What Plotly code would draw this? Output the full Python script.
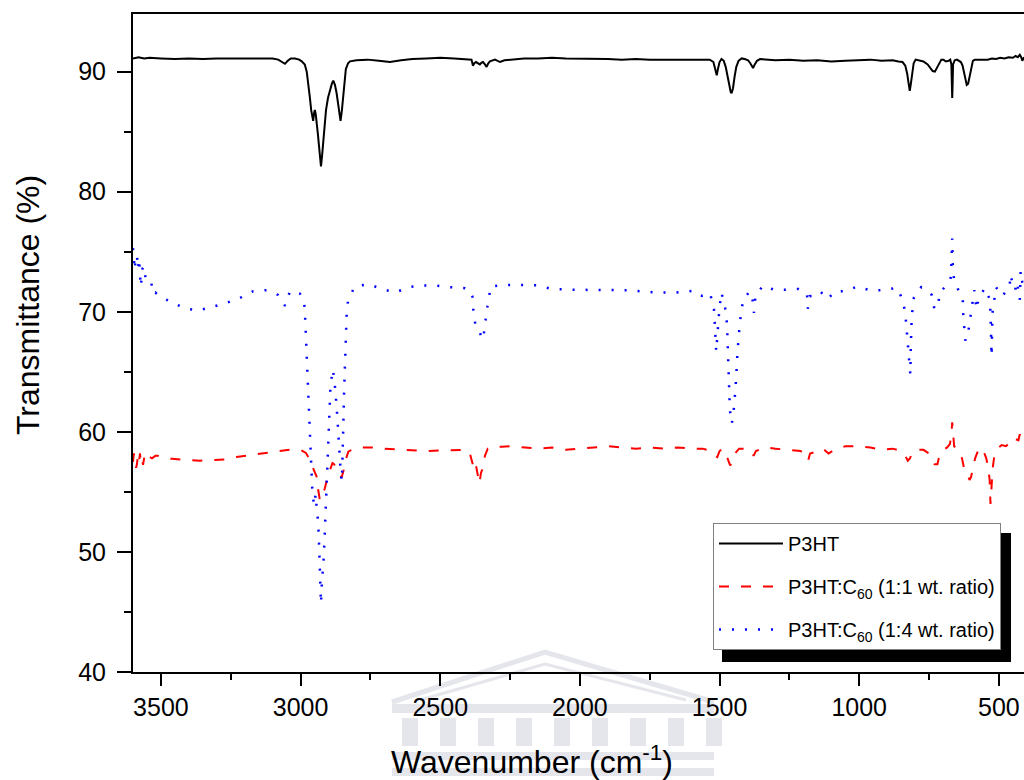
import plotly.graph_objects as go

# ---------------- data ----------------
p3ht_wn = [3600, 3580, 3560, 3540, 3500, 3450, 3400, 3350, 3300, 3250, 3200, 3150, 3100, 3080, 3066, 3056, 3046, 3035,
           3020, 3005, 2996, 2985, 2978, 2972, 2967, 2962, 2958, 2955, 2952, 2949, 2946, 2943, 2938, 2934, 2930, 2927,
           2923, 2919, 2914, 2909, 2902, 2895, 2888, 2883, 2877, 2871, 2865, 2860, 2857, 2852, 2847, 2842, 2838, 2830,
           2823, 2800, 2760, 2720, 2680, 2640, 2600, 2550, 2500, 2450, 2400, 2388, 2383, 2378, 2372, 2365, 2358, 2352,
           2347, 2340, 2334, 2328, 2322, 2304, 2295, 2286, 2270, 2250, 2200, 2150, 2100, 2050, 2000, 1950, 1900, 1850,
           1800, 1750, 1700, 1650, 1600, 1560, 1535, 1522, 1515, 1510, 1506, 1500, 1493, 1485, 1478, 1472, 1466, 1460,
           1457, 1452, 1446, 1440, 1432, 1421, 1410, 1398, 1390, 1384, 1380, 1374, 1366, 1355, 1330, 1300, 1250, 1200,
           1150, 1100, 1050, 1000, 960, 920, 880, 860, 845, 835, 828, 823, 819, 815, 810, 805, 798, 785, 770, 755, 745,
           737, 729, 722, 714, 706, 698, 690, 680, 674, 670, 668, 667, 666, 664, 658, 650, 642, 636, 630, 625, 620, 615,
           610, 605, 599, 593, 586, 570, 555, 540, 525, 510, 495, 480, 465, 450, 440, 432, 425, 420, 416, 413, 410]
p3ht_t = [91.1, 91.2, 91.1, 91.15, 91.1, 91.05, 91.1, 91.05, 91.1, 91.1, 91.15, 91.1, 91.1, 91.0, 90.8, 90.65, 90.9, 91.1,
          91.1, 91.0, 90.86, 90.6, 90.0, 89.0, 87.9, 86.8, 86.0, 85.9, 86.5, 86.8, 86.5, 86.0, 84.8, 83.8, 82.8, 82.1,
          83.0, 84.3, 85.6, 86.8, 87.8, 88.5, 89.0, 89.25, 88.9, 88.2, 87.0, 86.2, 85.9, 86.8, 88.2, 89.4, 90.2, 90.7,
          90.86, 90.95, 91.0, 90.9, 90.8, 90.95, 91.05, 91.1, 91.15, 91.1, 91.05, 91.0, 90.5, 90.7, 90.8, 90.7, 90.6, 90.75,
          90.8, 90.6, 90.4, 90.7, 90.86, 91.0, 90.9, 90.8, 90.95, 91.0, 91.1, 91.1, 91.15, 91.1, 91.1, 91.05, 91.05, 91.0,
          91.05, 91.0, 91.0, 91.0, 91.0, 91.05, 91.0, 90.8, 90.1, 89.7, 90.2, 90.8, 91.05, 90.9, 90.4, 89.6, 88.8, 88.3,
          88.2, 88.6, 89.6, 90.4, 90.9, 91.1, 91.05, 90.95, 90.7, 90.4, 90.3, 90.6, 90.9, 91.05, 91.0, 90.95, 91.0, 90.9,
          90.95, 90.85, 90.9, 90.95, 91.0, 90.9, 90.95, 90.85, 90.8, 90.5, 89.8, 89.0, 88.4, 89.0, 90.0, 90.7, 91.0, 90.95, 90.85, 90.6, 90.3,
          90.05, 90.0, 90.3, 90.75, 91.0, 91.0, 90.85, 90.9, 91.0, 90.6, 88.6, 87.8, 88.6, 90.6, 90.95, 91.0, 90.85, 90.8, 90.5, 89.9, 89.3, 88.9,
          89.0, 89.6, 90.4, 90.9, 91.0, 91.0, 91.05, 91.0, 91.1, 91.05, 91.15, 91.1, 91.2, 91.15, 91.3, 91.2, 91.4, 91.2, 90.9, 91.1, 91.2]

c11_wn = [3600, 3597, 3593, 3589, 3586, 3582, 3578, 3575, 3571, 3567, 3564, 3558, 3550, 3540, 3532, 3520, 3511, 3486,
          3460, 3432, 3400, 3360, 3320, 3271, 3230, 3199, 3150, 3110, 3060, 3027, 3000, 2981, 2970, 2963, 2955, 2949,
          2943, 2937, 2931, 2925, 2918, 2913, 2904, 2895, 2886, 2880, 2872, 2862, 2853, 2846, 2841, 2829, 2810, 2780,
          2740, 2700, 2650, 2600, 2550, 2500, 2450, 2410, 2395, 2385, 2378, 2372, 2366, 2360, 2354, 2347, 2340, 2330,
          2310, 2280, 2250, 2200, 2150, 2100, 2050, 2000, 1950, 1900, 1850, 1800, 1750, 1700, 1650, 1600, 1560, 1530,
          1515, 1508, 1500, 1490, 1478, 1470, 1462, 1455, 1445, 1430, 1400, 1385, 1378, 1370, 1340, 1300, 1250, 1210,
          1190, 1183, 1176, 1160, 1130, 1110, 1090, 1050, 1000, 960, 920, 880, 850, 835, 826, 818, 810, 800, 770, 750,
          740, 730, 720, 712, 700, 685, 675, 670, 667, 664, 660, 650, 640, 632, 625, 618, 612, 605, 600, 593, 585, 575,
          565, 555, 545, 538, 533, 530, 527, 522, 515, 505, 490, 475, 460, 450, 440, 430, 425, 420, 415, 410]
c11_t = [57.5, 58.2, 57.9, 57.0, 57.3, 58.1, 57.6, 58.2, 57.3, 57.6, 57.25, 58.1, 58.3, 57.9, 57.8, 58.0, 58.0, 57.8,
         57.75, 57.7, 57.65, 57.6, 57.65, 57.7, 57.9, 58.0, 58.15, 58.25, 58.4, 58.55, 58.5, 58.25, 57.8, 57.4, 57.0, 56.7,
         56.3, 55.2, 54.3, 54.6, 55.0, 55.3, 56.2, 56.8, 57.4, 57.3, 57.0, 56.5, 56.2, 56.8, 57.5, 58.35, 58.6, 58.7,
         58.7, 58.6, 58.55, 58.5, 58.4, 58.45, 58.5, 58.5, 58.3, 57.5, 56.8, 57.2, 56.5, 55.7, 56.6, 57.0, 58.0, 58.6,
         58.8, 58.75, 58.8, 58.7, 58.6, 58.7, 58.5, 58.6, 58.7, 58.8, 58.7, 58.6, 58.7, 58.6, 58.7, 58.6, 58.6, 58.4,
         58.0, 57.9, 58.4, 58.6, 58.2, 57.6, 57.2, 57.5, 58.2, 58.6, 58.6, 58.3, 58.0, 58.4, 58.7, 58.6, 58.5, 58.4,
         58.0, 57.6, 58.2, 58.3, 58.6, 58.2, 58.5, 58.8, 58.8, 58.7, 58.5, 58.6, 58.4, 58.0, 57.6, 57.8, 58.3, 58.5, 58.5, 58.2,
         57.8, 57.3, 57.3, 58.1, 58.5, 58.7, 59.0, 59.8, 60.8, 59.5, 58.8, 58.6, 58.1, 57.8, 57.0, 56.5, 56.4, 56.0, 56.2, 57.0, 57.8, 58.4,
         58.7, 58.4, 57.8, 57.0, 56.0, 54.0, 55.5, 57.0, 58.2, 58.6, 58.9, 58.8, 59.1, 59.0, 59.4, 59.3, 59.8, 59.4, 59.6, 59.2]

c14_wn = [3600, 3597, 3594, 3590, 3586, 3582, 3578, 3575, 3572, 3566, 3561, 3555, 3550, 3543, 3536, 3529, 3520, 3505,
          3489, 3454, 3414, 3368, 3317, 3271, 3221, 3171, 3121, 3081, 3056, 3038, 3002, 2988, 2985, 2981, 2975, 2971,
          2967, 2965, 2963, 2961, 2958, 2952, 2946, 2943, 2938, 2935, 2933, 2932, 2930, 2929, 2927, 2924, 2920, 2917,
          2914, 2911, 2908, 2904, 2900, 2893, 2885, 2880, 2875, 2871, 2868, 2865, 2862, 2860, 2856, 2852, 2849, 2847,
          2845, 2843, 2841, 2840, 2839, 2837, 2835, 2830, 2806, 2757, 2709, 2662, 2612, 2562, 2513, 2463, 2411, 2395,
          2385, 2381, 2374, 2366, 2361, 2354, 2347, 2340, 2334, 2327, 2320, 2286, 2239, 2150, 2103, 2008, 1913, 1832,
          1723, 1656, 1588, 1563, 1534, 1520, 1517, 1514, 1512, 1504, 1500, 1493, 1477, 1473, 1470, 1468, 1463, 1456,
          1448, 1441, 1436, 1428, 1422, 1414, 1391, 1382, 1377, 1371, 1344, 1303, 1262, 1217, 1187, 1184, 1177, 1157,
          1138, 1113, 1086, 1052, 1007, 962, 910, 866, 845, 835, 831, 826, 821, 817, 815, 812, 804, 778, 740, 731, 717,
          713, 686, 673, 670, 668, 667, 665, 661, 645, 629, 628, 625, 620, 609, 602, 595, 588, 580, 573, 550, 533, 530,
          529, 527, 526, 523, 510, 489, 462, 458, 450, 442, 435, 425, 422, 415, 410]
c14_t = [75.3, 74.6, 73.5, 74.5, 74.7, 73.6, 74.4, 73.1, 72.1, 73.6, 73.8, 72.8, 72.7, 72.7, 72.7, 71.5, 71.6, 71.3,
         71.1, 70.7, 70.3, 70.1, 70.4, 70.7, 71.1, 71.7, 71.8, 71.4, 70.5, 71.7, 71.5, 70.9, 70.2, 67.9, 65.6, 63.2,
         61.0, 59.75, 57.5, 56.3, 55.1, 53.9, 54.8, 53.8, 52.7, 51.4, 50.3, 49.1, 47.9, 46.7, 45.7, 47.3, 48.5, 49.6,
         51.2, 53.0, 55.3, 58.0, 61.0, 63.8, 65.2, 64.5, 63.3, 62.25, 61.1, 59.9, 58.8, 57.5, 56.5, 55.9, 58.0, 60.5,
         62.8, 64.0, 65.2, 66.3, 67.5, 68.6, 69.8, 71.0, 72.1, 72.3, 71.9, 71.6, 72.05, 72.2, 72.17, 72.05, 71.97, 71.8,
         71.3, 70.0, 68.9, 68.6, 68.5, 68.0, 67.7, 68.8, 70.1, 70.9, 72.1, 72.2, 72.25, 72.2, 71.9, 71.83, 71.8, 71.8,
         71.6, 71.6, 71.75, 71.33, 71.56, 70.2, 69.0, 67.9, 66.7, 69.2, 70.4, 71.6, 70.0, 68.8, 66.5, 64.06, 61.8, 60.7,
         62.06, 64.3, 66.56, 68.9, 70.1, 71.1, 71.7, 71.0, 69.9, 71.4, 72.17, 71.83, 71.83, 71.9, 71.5, 70.25, 71.3, 71.33,
         71.67, 71.06, 71.7, 71.7, 72.1, 71.8, 71.8, 72.0, 71.06, 69.9, 68.7, 67.5, 66.0, 64.8, 67.2, 69.6, 71.2, 72.05, 71.4, 70.25, 70.4,
         71.56, 72.25, 72.7, 73.9, 75.0, 76.1, 74.0, 72.8, 71.8, 71.06, 69.9, 68.8, 67.6, 68.4, 69.5, 70.7, 71.8, 70.2, 71.1, 71.97, 71.06, 69.9,
         68.7, 67.4, 66.3, 69.9, 72.05, 71.3, 72.0, 73.1, 72.2, 71.8, 72.5, 71.0, 73.4, 72.25, 71.8]

x_ticks = [3500, 3000, 2500, 2000, 1500, 1000, 500]
y_ticks = [40, 50, 60, 70, 80, 90]
names = ["P3HT", "P3HT:C<sub>60</sub> (1:1 wt. ratio)", "P3HT:C<sub>60</sub> (1:4 wt. ratio)"]

# ---------------- layout geometry (pixels) ----------------
W, H = 1024, 780
ML, MR, MT, MB = 133, 0, 14, 108
PW, PH = W - ML - MR, H - MT - MB


def px(x):  # figure pixel -> paper x
    return (x - ML) / PW


def py(y):  # figure pixel -> paper y
    return (H - MB - y) / PH


fig = go.Figure()
fig.add_trace(go.Scatter(x=p3ht_wn, y=p3ht_t, mode="lines", name=names[0], legendgroup="g1",
                         line=dict(color="black", width=2)))
fig.add_trace(go.Scatter(x=c11_wn, y=c11_t, mode="lines", name=names[1], legendgroup="g2",
                         line=dict(color="#ff0000", width=2, dash="10px,12px")))
fig.add_trace(go.Scatter(x=c14_wn, y=c14_t, mode="lines", name=names[2], legendgroup="g3",
                         line=dict(color="#0000ff", width=2.5, dash="2px,11px")))

axis_common = dict(showgrid=False, zeroline=False, showline=True, linewidth=2, linecolor="black",
                   ticks="outside", tickwidth=2, tickcolor="black",
                   tickfont=dict(size=25, color="black", family="Liberation Sans, Arial, sans-serif"))

fig.update_xaxes(range=[3600, 410], tickvals=x_ticks, ticklen=12, mirror=True,
                 minor=dict(ticks="outside", ticklen=6, tickwidth=2, tickcolor="black", dtick=250, tick0=0, showgrid=False),
                 **axis_common)
fig.update_yaxes(range=[40, 94.8], tickvals=y_ticks, ticklen=14, mirror=False, ticklabelstandoff=6,
                 minor=dict(ticks="outside", ticklen=7, tickwidth=2, tickcolor="black", dtick=5, tick0=0, showgrid=False),
                 **axis_common)

# faint watermark (building logo) behind the x-axis title
wm = "#e4e6ec"
wm_shapes = [
    dict(type="path", path=f"M {px(392)},{py(702)} L {px(545)},{py(652)} L {px(714)},{py(702)}",
         line=dict(color=wm, width=5)),
    dict(type="path", path=f"M {px(420)},{py(700)} L {px(545)},{py(664)} L {px(686)},{py(700)}",
         line=dict(color=wm, width=3)),
    dict(type="rect", x0=px(392), x1=px(714), y0=py(713), y1=py(704), fillcolor=wm, line=dict(width=0)),
    dict(type="rect", x0=px(392), x1=px(714), y0=py(760), y1=py(752), fillcolor=wm, line=dict(width=0)),
    dict(type="rect", x0=px(392), x1=px(714), y0=py(776), y1=py(768), fillcolor=wm, line=dict(width=0)),
]
for cx in range(402, 712, 38):
    wm_shapes.append(dict(type="rect", x0=px(cx), x1=px(cx + 16), y0=py(746), y1=py(718),
                          fillcolor=wm, line=dict(width=0)))
for s in wm_shapes:
    s.update(xref="paper", yref="paper", layer="below")

shadow = dict(type="rect", xref="paper", yref="paper", x0=px(722), x1=px(1011), y0=py(662), y1=py(533),
              fillcolor="black", line=dict(width=0), layer="above")

fig.update_layout(
    width=W, height=H,
    margin=dict(l=ML, r=MR, t=MT, b=MB, pad=0),
    paper_bgcolor="white", plot_bgcolor="rgba(0,0,0,0)",
    font=dict(family="Liberation Sans, Arial, sans-serif", color="black"),
    showlegend=True,
    legend=dict(x=px(713), y=py(523), xanchor="left", yanchor="top",
                bgcolor="white", bordercolor="#808080", borderwidth=1, itemwidth=64,
                font=dict(size=20, color="black"), tracegroupgap=14),
    shapes=wm_shapes + [shadow],
    annotations=[
        dict(text="Transmittance (%)", xref="paper", yref="paper", x=px(28), y=py(305),
             xanchor="center", yanchor="middle", textangle=-90, showarrow=False,
             font=dict(size=32, color="black")),
        dict(text="Wavenumber (cm<sup>-1</sup>)", xref="paper", yref="paper", x=px(532), y=py(760),
             xanchor="center", yanchor="middle", showarrow=False,
             font=dict(size=32, color="black")),
    ],
)

fig.write_html("out.html", config={"displayModeBar": False})
